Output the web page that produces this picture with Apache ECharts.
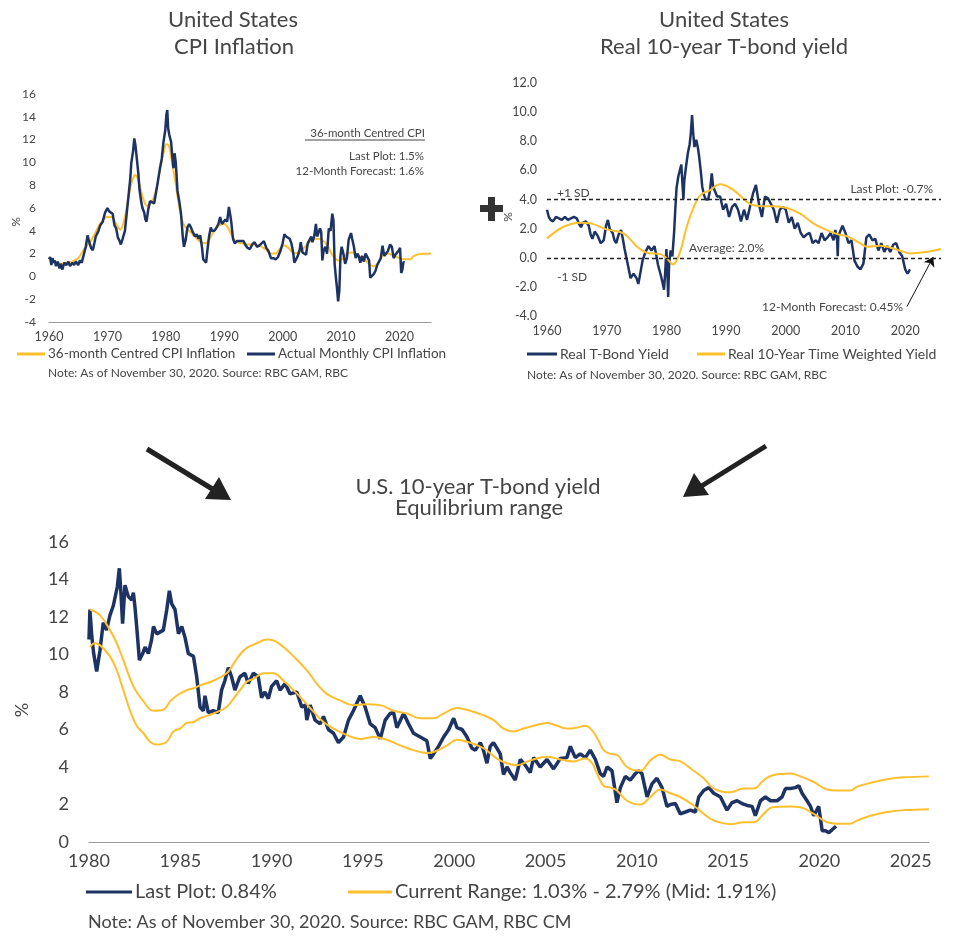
<!DOCTYPE html>
<html>
<head>
<meta charset="utf-8">
<script src="https://cdn.jsdelivr.net/npm/echarts@6/dist/echarts.min.js"></script>
<style>
  html, body { margin: 0; padding: 0; background: #fff; }
  #chart { width: 956px; height: 936px; }
</style>
</head>
<body>
<div id="chart"></div>
<script>
// --- top-left: US CPI inflation (year, %)
var cpiActual = [
  [1960.0,1.5],[1960.2,1.7],[1960.4,1.0],[1960.6,1.6],[1960.8,1.2],[1961.0,1.4],[1961.2,0.9],[1961.5,1.3],[1961.8,0.7],
  [1962.0,1.1],[1962.3,0.6],[1962.6,1.2],[1963.0,1.0],[1963.3,1.3],[1963.6,0.9],[1964.0,1.2],[1964.3,1.0],[1964.6,1.3],
  [1965.0,1.0],[1965.3,1.4],[1965.6,1.2],[1966.0,2.0],[1966.3,2.6],[1966.6,3.6],[1966.9,3.0],[1967.2,2.5],[1967.5,2.3],
  [1967.8,3.0],[1968.0,3.5],[1968.4,3.9],[1968.8,4.5],[1969.2,4.8],[1969.6,5.6],[1970.0,6.0],[1970.3,5.7],[1970.6,5.8],
  [1970.9,5.5],[1971.2,4.5],[1971.5,4.2],[1971.8,3.4],[1972.0,3.2],[1972.3,2.8],[1972.6,3.3],[1973.0,4.0],[1973.3,5.5],
  [1973.6,7.0],[1973.9,8.5],[1974.1,10.0],[1974.4,11.0],[1974.6,12.1],[1974.8,11.5],[1975.0,10.5],[1975.3,9.0],
  [1975.5,7.6],[1975.8,6.5],[1976.0,6.0],[1976.3,5.6],[1976.5,5.0],[1976.7,4.8],[1977.0,5.9],[1977.3,6.6],[1977.6,6.5],
  [1978.0,6.4],[1978.3,7.3],[1978.6,8.2],[1979.0,9.5],[1979.3,10.3],[1979.6,11.8],[1979.9,12.8],[1980.1,14.2],
  [1980.25,14.6],[1980.4,13.0],[1980.6,12.4],[1980.9,11.8],[1981.1,10.6],[1981.3,9.5],[1981.5,10.8],[1981.7,10.0],
  [1982.0,7.5],[1982.3,6.6],[1982.6,5.5],[1982.9,3.5],[1983.1,2.6],[1983.4,3.2],[1983.7,4.3],[1984.0,4.6],[1984.3,4.3],
  [1984.6,3.9],[1985.0,3.5],[1985.3,3.7],[1985.6,3.3],[1985.9,3.6],[1986.2,2.5],[1986.4,1.5],[1986.6,1.6],[1986.9,1.2],
  [1987.1,2.2],[1987.4,3.5],[1987.7,4.3],[1987.9,4.0],[1988.3,4.0],[1988.6,4.2],[1989.0,4.6],[1989.3,5.2],[1989.6,4.6],
  [1989.9,4.5],[1990.2,5.0],[1990.5,4.8],[1990.8,6.1],[1991.0,5.5],[1991.2,4.8],[1991.5,3.3],[1991.8,2.9],[1992.2,3.1],
  [1992.5,3.0],[1992.9,3.1],[1993.3,3.1],[1993.7,2.7],[1994.0,2.5],[1994.4,2.4],[1994.8,2.8],[1995.2,3.0],[1995.6,2.6],
  [1996.0,2.7],[1996.4,2.9],[1996.8,3.1],[1997.2,2.5],[1997.6,2.2],[1998.0,1.6],[1998.4,1.6],[1998.8,1.5],[1999.2,1.7],
  [1999.6,2.2],[2000.0,2.9],[2000.3,3.7],[2000.6,3.5],[2000.9,3.4],[2001.2,3.3],[2001.5,2.9],[2001.8,2.1],[2002.0,1.2],
  [2002.3,1.3],[2002.6,1.8],[2002.9,2.3],[2003.1,3.0],[2003.4,2.1],[2003.7,2.2],[2004.0,1.9],[2004.3,2.9],[2004.6,3.0],
  [2004.9,3.5],[2005.1,3.0],[2005.4,3.5],[2005.7,4.6],[2005.9,3.5],[2006.1,3.6],[2006.4,4.2],[2006.6,3.9],[2006.8,1.4],
  [2007.0,2.2],[2007.3,2.6],[2007.6,2.0],[2007.9,4.2],[2008.2,4.0],[2008.5,5.5],[2008.7,4.9],[2008.9,1.1],[2009.1,0.0],
  [2009.3,-1.0],[2009.5,-2.2],[2009.7,-1.3],[2009.9,1.8],[2010.1,2.6],[2010.4,2.0],[2010.7,1.1],[2011.0,1.6],[2011.3,3.2],
  [2011.7,3.8],[2011.9,3.3],[2012.2,2.6],[2012.5,1.6],[2012.8,2.0],[2013.0,1.8],[2013.3,1.2],[2013.6,1.8],[2013.9,1.3],
  [2014.2,2.0],[2014.5,2.0],[2014.8,1.4],[2015.0,-0.1],[2015.3,-0.2],[2015.6,0.2],[2015.9,0.5],[2016.2,1.0],[2016.5,1.1],
  [2016.8,1.6],[2017.1,2.7],[2017.4,1.8],[2017.7,1.9],[2018.0,2.2],[2018.4,2.8],[2018.7,2.6],[2019.0,1.6],[2019.3,1.9],
  [2019.6,1.8],[2019.9,2.3],[2020.1,2.5],[2020.3,0.3],[2020.5,0.6],[2020.7,1.3],[2020.8,1.2]
];
var cpiCentred = [
  [1960,1.5],[1961,1.2],[1962,1.1],[1963,1.2],[1964,1.3],[1965,1.6],[1966,2.4],[1967,3.0],[1968,3.9],[1969,4.8],
  [1970,5.2],[1970.7,5.2],[1971.5,4.6],[1972.2,4.1],[1973,5.2],[1973.7,7.2],[1974.3,8.5],[1974.8,8.9],[1975.4,8.2],
  [1976.2,6.7],[1976.8,6.2],[1977.5,6.5],[1978.2,7.3],[1979,9.3],[1979.6,10.8],[1980.1,11.6],[1980.5,11.5],[1981,10.2],
  [1981.6,8.4],[1982.2,6.4],[1983,4.6],[1984,4.0],[1985,3.5],[1986,3.0],[1986.8,2.9],[1987.5,3.3],[1988.3,4.0],
  [1989.2,4.5],[1990,4.6],[1990.6,4.3],[1991.3,3.6],[1992,3.1],[1993,2.9],[1994,2.8],[1995,2.8],[1996,2.7],[1997,2.4],
  [1998,2.0],[1998.8,2.0],[1999.5,2.4],[2000.3,2.7],[2001,2.5],[2002,2.0],[2003,2.2],[2004,2.7],[2005,3.2],[2006,3.3],
  [2007,3.1],[2007.8,2.6],[2008.6,1.8],[2009.5,1.4],[2010.2,1.5],[2011,2.0],[2012,2.1],[2013,1.8],[2014,1.5],[2015,1.0],
  [2015.6,0.9],[2016.5,1.3],[2017.3,1.9],[2018,2.0],[2019,1.8],[2020,1.6],[2020.5,1.5],[2021.8,1.5],[2022.5,1.8],
  [2023.5,1.97],[2025.4,2.0]
];

// --- top-right: real 10-year T-bond yield (year, %)
var realYield = [
  [1960,3.3],[1960.3,2.8],[1960.6,2.6],[1961,2.5],[1961.5,2.8],[1962,2.7],[1962.5,2.6],[1963,2.8],[1963.5,2.6],[1964,2.7],
  [1964.5,2.8],[1965,2.7],[1965.4,2.3],[1965.7,2.1],[1966,2.4],[1966.5,2.5],[1967,2.2],[1967.3,1.6],[1967.6,1.3],
  [1968,1.8],[1968.5,1.5],[1969,1.0],[1969.5,1.2],[1969.9,2.2],[1970.2,2.6],[1970.5,2.0],[1971,1.7],[1971.3,1.2],
  [1971.6,1.0],[1972,1.6],[1972.4,1.9],[1972.7,1.3],[1973,0.6],[1973.5,-0.4],[1974,-1.4],[1974.5,-1.1],[1975,-1.4],
  [1975.3,-1.8],[1975.7,-0.9],[1976,-0.2],[1976.5,0.4],[1977,0.8],[1977.5,0.5],[1978,0.8],[1978.3,0.2],[1978.6,-0.5],
  [1979,-1.1],[1979.3,-1.6],[1979.6,-2.2],[1979.8,-1.0],[1980.0,0.6],[1980.15,-0.8],[1980.3,-2.7],[1980.45,-0.5],
  [1980.7,0.5],[1981,0.1],[1981.3,1.8],[1981.5,3.4],[1981.7,4.8],[1982,5.6],[1982.3,5.5],[1982.5,6.4],[1982.7,5.0],
  [1982.85,4.0],[1983,5.3],[1983.3,6.3],[1983.6,7.2],[1983.9,7.8],[1984.1,8.6],[1984.3,9.8],[1984.5,8.5],[1984.7,7.6],
  [1985,8.1],[1985.3,7.5],[1985.5,6.9],[1985.8,5.8],[1986,4.9],[1986.3,4.3],[1986.6,4.0],[1987,4.0],[1987.3,4.6],
  [1987.6,5.8],[1987.8,5.0],[1988,4.7],[1988.5,4.2],[1989,4.2],[1989.5,3.3],[1990,3.7],[1990.5,2.8],[1991,3.5],
  [1991.5,3.7],[1992,3.3],[1992.5,2.5],[1993,3.3],[1993.5,2.6],[1994,3.5],[1994.5,4.4],[1995,5.0],[1995.5,3.7],
  [1996,2.8],[1996.5,4.2],[1997,4.1],[1997.5,3.7],[1998,3.3],[1998.5,2.4],[1999,3.3],[1999.5,3.5],[2000,3.3],
  [2000.5,2.4],[2001,2.8],[2001.5,2.0],[2002,2.4],[2002.5,1.7],[2003,1.4],[2003.5,1.6],[2004,1.7],[2004.5,1.0],
  [2005,1.2],[2005.5,1.0],[2006,1.7],[2006.5,1.2],[2007,1.4],[2007.5,1.7],[2008,1.2],[2008.3,1.9],[2008.6,1.2],
  [2008.7,0.1],[2008.8,1.5],[2009,1.4],[2009.5,2.2],[2010,1.7],[2010.5,1.0],[2011,1.2],[2011.5,-0.2],[2012,-0.6],
  [2012.5,-0.8],[2013,-0.4],[2013.5,1.4],[2014,1.6],[2014.5,1.2],[2015,1.3],[2015.5,0.5],[2016,1.0],[2016.5,0.4],
  [2017,0.8],[2017.5,0.4],[2018,0.9],[2018.5,1.0],[2019,0.4],[2019.5,0.1],[2020,-0.8],[2020.4,-1.1],[2020.8,-0.8]
];
var realWeighted = [
  [1960.0,1.33],[1962.8,2.13],[1965.6,2.41],[1967.3,2.36],[1970.0,1.95],[1972.8,1.67],[1975.1,0.76],[1976.7,0.34],
  [1979.0,0.25],[1980.1,-0.05],[1981.1,-0.46],[1982.3,0.41],[1983.4,2.13],[1984.6,3.5],[1985.7,4.3],[1987.3,4.63],
  [1989.0,5.05],[1991.3,4.63],[1993.5,3.83],[1994.6,3.6],[1996.3,3.53],[1997.9,3.53],[2000.2,3.42],[2002.4,3.03],
  [2004.6,2.36],[2006.9,1.9],[2009.1,1.56],[2010.2,1.49],[2012.5,0.99],[2013.6,0.76],[2015.8,0.83],[2018.0,0.64],
  [2019.7,0.41],[2020.8,0.3],[2026.0,0.6]
];
var sdLines = [4, 0];

// --- bottom: US 10-year yield and equilibrium range (year, %)
var tenYear = [
  [1980.0,10.8],[1980.05,12.4],[1980.15,11.0],[1980.25,10.1],[1980.42,9.1],[1980.6,10.2],[1980.78,11.7],[1980.96,11.3],
  [1981.15,12.1],[1981.33,12.6],[1981.42,12.7],[1981.55,13.6],[1981.66,14.6],[1981.73,13.6],[1981.84,11.65],[1981.97,13.7],
  [1982.15,13.1],[1982.34,12.9],[1982.43,13.3],[1982.52,12.5],[1982.61,11.5],[1982.76,9.7],[1982.94,10.05],[1983.07,10.4],
  [1983.25,10.05],[1983.43,10.8],[1983.53,11.5],[1983.71,11.1],[1984.07,11.3],[1984.26,12.4],[1984.4,13.4],[1984.53,12.7],
  [1984.71,12.4],[1984.9,11.1],[1985.08,11.5],[1985.26,10.9],[1985.44,10.05],[1985.72,9.9],[1985.9,8.8],[1986.08,7.2],
  [1986.26,7.0],[1986.35,7.8],[1986.53,6.9],[1986.8,7.0],[1987.08,6.9],[1987.26,8.1],[1987.44,8.6],[1987.63,9.3],
  [1987.81,8.8],[1987.99,8.1],[1988.26,8.8],[1988.54,9.0],[1988.72,8.45],[1989.0,9.0],[1989.27,8.8],[1989.45,7.7],
  [1989.63,8.0],[1989.82,7.65],[1990.0,8.3],[1990.28,8.6],[1990.46,8.1],[1990.74,8.45],[1991.01,7.9],[1991.38,8.0],
  [1991.65,7.2],[1991.84,7.3],[1991.93,6.5],[1992.11,7.3],[1992.38,6.5],[1992.66,6.3],[1992.84,6.7],[1993.11,6.0],
  [1993.39,5.8],[1993.66,5.3],[1993.94,5.6],[1994.21,6.5],[1994.48,7.0],[1994.85,7.8],[1995.12,7.2],[1995.4,6.3],
  [1995.67,6.1],[1995.95,5.5],[1996.22,6.5],[1996.49,6.85],[1996.68,6.9],[1996.86,6.1],[1997.23,6.85],[1997.5,6.3],
  [1997.77,5.8],[1998.14,5.6],[1998.5,5.4],[1998.69,4.45],[1998.87,4.7],[1999.14,5.1],[1999.42,5.6],[1999.7,6.0],
  [1999.97,6.6],[2000.15,6.1],[2000.43,6.0],[2000.7,5.6],[2000.97,5.0],[2001.16,4.9],[2001.43,5.3],[2001.6,4.9],
  [2001.79,4.2],[2001.97,5.1],[2002.15,5.3],[2002.34,5.0],[2002.52,4.7],[2002.7,3.6],[2002.89,4.0],[2003.07,3.7],
  [2003.34,3.3],[2003.62,4.4],[2003.89,4.1],[2004.16,3.7],[2004.35,4.5],[2004.71,4.0],[2005.08,4.4],[2005.44,3.9],
  [2005.81,4.45],[2006.17,4.5],[2006.36,5.1],[2006.63,4.5],[2006.9,4.7],[2007.18,4.5],[2007.45,4.9],[2007.73,4.4],
  [2008.0,3.65],[2008.18,3.5],[2008.37,4.0],[2008.64,3.8],[2008.91,2.1],[2009.1,2.9],[2009.37,3.5],[2009.64,3.3],
  [2009.92,3.65],[2010.1,3.8],[2010.28,3.65],[2010.56,2.4],[2010.83,3.1],[2011.1,3.4],[2011.38,2.9],[2011.65,1.9],
  [2011.84,2.0],[2012.11,2.05],[2012.38,1.5],[2012.66,1.6],[2012.93,1.7],[2013.21,1.6],[2013.39,2.4],[2013.66,2.75],
  [2013.94,2.9],[2014.21,2.6],[2014.58,2.4],[2014.94,1.7],[2015.21,2.1],[2015.49,2.2],[2015.76,2.05],[2016.04,1.95],
  [2016.31,1.9],[2016.49,1.4],[2016.77,2.2],[2017.04,2.4],[2017.32,2.2],[2017.68,2.2],[2017.95,2.4],[2018.14,2.85],
  [2018.41,2.85],[2018.68,2.9],[2018.87,3.0],[2019.05,2.6],[2019.32,2.2],[2019.51,1.9],[2019.69,1.4],[2019.96,1.9],
  [2020.15,0.6],[2020.33,0.6],[2020.51,0.5],[2020.69,0.65],[2020.91,0.84]
];
var rangeUpper = [
  [1980.05,12.4],[1980.6,12.1],[1981.15,11.3],[1981.52,10.6],[1981.88,9.7],[1982.43,8.3],[1982.98,7.5],[1983.53,7.0],
  [1984.07,7.05],[1984.44,7.5],[1984.8,7.8],[1985.35,8.1],[1985.72,8.2],[1986.08,8.35],[1986.81,8.6],[1987.54,9.0],
  [1987.91,9.5],[1988.27,10.0],[1988.64,10.35],[1989.19,10.6],[1989.74,10.8],[1990.1,10.75],[1990.65,10.4],[1991.2,9.9],
  [1991.93,9.15],[1992.47,8.45],[1993.02,7.9],[1993.75,7.55],[1994.48,7.3],[1995.21,7.35],[1995.95,7.3],[1996.68,7.0],
  [1997.41,6.85],[1998.14,6.6],[1998.87,6.6],[1999.42,6.85],[2000.15,7.15],[2000.69,7.05],[2001.61,6.75],[2002.16,6.5],
  [2002.7,6.05],[2003.25,5.9],[2003.8,6.05],[2004.35,6.2],[2005.08,6.35],[2005.63,6.2],[2006.17,6.05],[2006.72,6.1],
  [2007.18,6.2],[2007.55,5.95],[2007.91,5.4],[2008.18,4.9],[2008.55,4.7],[2008.91,4.65],[2009.46,4.0],[2010.19,3.8],
  [2010.74,4.35],[2011.29,4.65],[2011.84,4.4],[2012.38,4.3],[2013.11,3.8],[2013.66,3.4],[2014.21,2.85],[2015.12,2.65],
  [2015.85,2.85],[2016.4,2.85],[2016.95,3.3],[2017.41,3.55],[2018.41,3.65],[2018.96,3.5],[2019.69,3.2],[2020.42,2.8],
  [2020.97,2.75],[2021.7,2.75],[2022.07,2.95],[2022.79,3.15],[2023.71,3.35],[2024.62,3.45],[2025.99,3.5]
];
var rangeLower = [
  [1980.05,10.4],[1980.33,10.6],[1980.6,10.5],[1981.15,9.9],[1981.52,9.15],[1981.88,8.1],[1982.25,7.0],[1982.61,6.2],
  [1982.98,5.8],[1983.34,5.35],[1983.71,5.2],[1984.26,5.35],[1984.62,5.9],[1984.99,6.05],[1985.35,6.35],[1985.72,6.4],
  [1986.08,6.6],[1986.81,6.85],[1987.54,7.2],[1987.91,7.65],[1988.27,8.1],[1988.64,8.55],[1989.0,8.7],[1989.55,9.0],
  [1990.1,9.0],[1990.65,8.6],[1991.2,8.1],[1991.74,7.55],[1992.29,6.95],[1992.84,6.4],[1993.39,6.05],[1994.12,5.7],
  [1994.85,5.5],[1995.58,5.6],[1996.31,5.45],[1997.04,5.15],[1997.77,4.9],[1998.5,4.75],[1998.87,4.8],[1999.6,5.15],
  [2000.15,5.45],[2000.69,5.35],[2001.61,5.0],[2002.34,4.45],[2002.88,4.2],[2003.43,4.1],[2004.16,4.35],[2005.08,4.55],
  [2005.81,4.4],[2006.54,4.3],[2007.18,4.45],[2007.55,4.2],[2007.82,3.65],[2008.18,3.0],[2008.55,2.9],[2008.91,2.75],
  [2009.46,2.2],[2010.19,2.0],[2010.74,2.4],[2011.29,2.8],[2011.84,2.6],[2012.38,2.4],[2013.11,1.95],[2013.66,1.5],
  [2014.21,1.15],[2015.12,0.95],[2015.85,1.05],[2016.4,1.05],[2016.95,1.5],[2017.41,1.85],[2018.41,1.9],[2018.96,1.85],
  [2019.69,1.5],[2020.42,1.05],[2020.97,0.98],[2021.7,0.98],[2022.07,1.15],[2022.79,1.4],[2023.71,1.6],[2024.62,1.7],
  [2025.99,1.75]
];

var NAVY = '#1d3364';
var GOLD = '#fdbf2d';
var TXT = '#454545';
var FONT = 'Lato';

var chart = echarts.init(document.getElementById('chart'));

function yearLabel(step) {
  return function (v) { return Math.abs(v % step) < 1e-6 ? String(Math.round(v)) : ''; };
}

function txt(x, y, s, size, align, extra) {
  var o = {
    type: 'text', x: x, y: y, silent: true,
    style: { text: s, fill: TXT, font: size + 'px ' + FONT, textAlign: align || 'left', textVerticalAlign: 'middle' }
  };
  if (extra) Object.assign(o, extra);
  return o;
}

function legendItem(name, left, top, w, size) {
  return {
    data: [name], left: left, top: top, padding: 0, icon: 'rect',
    itemWidth: w, itemHeight: 3, itemGap: 4, selectedMode: false,
    textStyle: { fontSize: size, color: TXT, fontFamily: FONT, padding: [0, 0, 0, -2] }
  };
}

var option = {
  animation: false,
  backgroundColor: '#fff',
  textStyle: { fontFamily: FONT },
  grid: [
    { left: 49, top: 94, width: 382, height: 228 },
    { left: 547, top: 83, width: 394, height: 233 },
    { left: 89, top: 542, width: 840, height: 300 }
  ],
  xAxis: [
    {
      gridIndex: 0, type: 'value', min: 1960, max: 2025.4, interval: 10,
      axisLine: { onZero: false, lineStyle: { color: '#9a9a9a', width: 1.2 } }, axisTick: { show: false }, splitLine: { show: false },
      axisLabel: { color: TXT, fontSize: 12.5, margin: 8, formatter: yearLabel(10), showMaxLabel: false }
    },
    {
      gridIndex: 1, type: 'value', min: 1960, max: 2026, interval: 10,
      axisLine: { show: false, onZero: false }, axisTick: { show: false }, splitLine: { show: false },
      axisLabel: { color: TXT, fontSize: 12.5, margin: 8, formatter: yearLabel(10), showMaxLabel: false }
    },
    {
      gridIndex: 2, type: 'value', min: 1980, max: 2026, interval: 5,
      axisLine: { onZero: false, lineStyle: { color: '#9a9a9a', width: 1.2 } }, axisTick: { show: false }, splitLine: { show: false },
      axisLabel: { color: TXT, fontSize: 18, margin: 10, formatter: yearLabel(5), showMaxLabel: false }
    }
  ],
  yAxis: [
    {
      gridIndex: 0, type: 'value', min: -4, max: 16, interval: 2,
      axisLine: { show: false }, axisTick: { show: false }, splitLine: { show: false },
      axisLabel: { color: TXT, fontSize: 12, margin: 13 }
    },
    {
      gridIndex: 1, type: 'value', min: -4, max: 12, interval: 2,
      axisLine: { show: false }, axisTick: { show: false }, splitLine: { show: false },
      axisLabel: { color: TXT, fontSize: 12.5, margin: 10, formatter: function (v) { return v.toFixed(1); } }
    },
    {
      gridIndex: 2, type: 'value', min: 0, max: 16, interval: 2,
      axisLine: { show: false }, axisTick: { show: false }, splitLine: { show: false },
      axisLabel: { color: TXT, fontSize: 18, margin: 20 }
    }
  ],
  legend: [
    legendItem('36-month Centred CPI Inflation', 17, 347, 28, 13.5),
    legendItem('Actual Monthly CPI Inflation', 247, 347, 28, 13.5),
    legendItem('Real T-Bond Yield', 527, 347, 30, 14),
    legendItem('Real 10-Year Time Weighted Yield', 697, 347, 28, 14),
    legendItem('Last Plot: 0.84%', 86, 882, 46, 20),
    legendItem('Current Range: 1.03% - 2.79% (Mid: 1.91%)', 348, 882, 44, 20)
  ],
  series: [
    {
      name: '36-month Centred CPI Inflation', type: 'line', xAxisIndex: 0, yAxisIndex: 0,
      data: cpiCentred, showSymbol: false, symbol: 'none', smooth: 0.4,
      itemStyle: { color: GOLD }, lineStyle: { color: GOLD, width: 2 }
    },
    {
      name: 'Actual Monthly CPI Inflation', type: 'line', xAxisIndex: 0, yAxisIndex: 0,
      data: cpiActual, showSymbol: false, symbol: 'none',
      itemStyle: { color: NAVY }, lineStyle: { color: NAVY, width: 2.5 }
    },
    {
      name: 'Real T-Bond Yield', type: 'line', xAxisIndex: 1, yAxisIndex: 1,
      data: realYield, showSymbol: false, symbol: 'none',
      itemStyle: { color: NAVY }, lineStyle: { color: NAVY, width: 2.5 },
      markLine: {
        silent: true, symbol: 'none', label: { show: false },
        lineStyle: { color: '#222', type: [4, 3], width: 1.3 },
        data: sdLines.map(function (v) { return { yAxis: v }; })
      }
    },
    {
      name: 'Real 10-Year Time Weighted Yield', type: 'line', xAxisIndex: 1, yAxisIndex: 1,
      data: realWeighted, showSymbol: false, symbol: 'none', smooth: 0.4,
      itemStyle: { color: GOLD }, lineStyle: { color: GOLD, width: 2 },
      markLine: {
        silent: true, symbol: ['none', 'arrow'], symbolSize: 9, label: { show: false },
        lineStyle: { color: '#111', type: 'solid', width: 1 },
        data: [[{ coord: [2020.3, -3.35] }, { coord: [2024.7, 0.05] }]]
      }
    },
    {
      name: 'Last Plot: 0.84%', type: 'line', xAxisIndex: 2, yAxisIndex: 2,
      data: tenYear, showSymbol: false, symbol: 'none',
      itemStyle: { color: NAVY }, lineStyle: { color: NAVY, width: 3.5 }
    },
    {
      name: 'Current Range: 1.03% - 2.79% (Mid: 1.91%)', type: 'line', xAxisIndex: 2, yAxisIndex: 2,
      data: rangeUpper, showSymbol: false, symbol: 'none', smooth: 0.4,
      itemStyle: { color: GOLD }, lineStyle: { color: GOLD, width: 2 }
    },
    {
      name: 'Current Range: 1.03% - 2.79% (Mid: 1.91%)', type: 'line', xAxisIndex: 2, yAxisIndex: 2,
      data: rangeLower, showSymbol: false, symbol: 'none', smooth: 0.4,
      itemStyle: { color: GOLD }, lineStyle: { color: GOLD, width: 2 }
    }
  ],
  graphic: [
    // titles
    txt(233, 20, 'United States', 22, 'center'),
    txt(234, 47, 'CPI Inflation', 22, 'center'),
    txt(724, 20, 'United States', 22, 'center'),
    txt(724, 47, 'Real 10-year T-bond yield', 22, 'center'),
    txt(478, 487, 'U.S. 10-year T-bond yield', 22, 'center'),
    txt(479, 508, 'Equilibrium range', 22, 'center'),
    // axis names
    txt(16, 222, '%', 12, 'center', { rotation: Math.PI / 2 }),
    txt(508, 217, '%', 12, 'center', { rotation: Math.PI / 2 }),
    txt(22, 710, '%', 18, 'center', { rotation: Math.PI / 2 }),
    // CPI annotations
    txt(425, 133, '36-month Centred CPI', 11.5, 'right'),
    { type: 'line', silent: true, shape: { x1: 305, y1: 140, x2: 425, y2: 140 }, style: { stroke: TXT, lineWidth: 1 } },
    txt(424, 156, 'Last Plot: 1.5%', 11.5, 'right'),
    txt(424, 171, '12-Month Forecast: 1.6%', 11.5, 'right'),
    // real yield annotations
    txt(557, 193, '+1 SD', 12, 'left'),
    txt(557, 277, '-1 SD', 12, 'left'),
    txt(933, 189, 'Last Plot: -0.7%', 12, 'right'),
    txt(689, 248, 'Average: 2.0%', 12, 'left'),
    txt(903, 307, '12-Month Forecast: 0.45%', 12, 'right'),
    // notes
    txt(48, 373, 'Note: As of November 30, 2020. Source: RBC GAM, RBC', 12, 'left'),
    txt(527, 375, 'Note: As of November 30, 2020. Source: RBC GAM, RBC', 12, 'left'),
    txt(88, 922, 'Note: As of November 30, 2020. Source: RBC GAM, RBC CM', 18, 'left'),
    // plus sign
    { type: 'rect', silent: true, shape: { x: 480, y: 205, width: 23, height: 7 }, style: { fill: '#333' } },
    { type: 'rect', silent: true, shape: { x: 488, y: 197, width: 7, height: 24 }, style: { fill: '#333' } },
    // left arrow
    { type: 'line', silent: true, shape: { x1: 147, y1: 449, x2: 214, y2: 490 }, style: { stroke: '#222', lineWidth: 5 } },
    { type: 'polygon', silent: true, shape: { points: [[231, 500], [205, 499], [219, 477]] }, style: { fill: '#222' } },
    // right arrow
    { type: 'line', silent: true, shape: { x1: 766, y1: 446, x2: 700, y2: 487 }, style: { stroke: '#222', lineWidth: 5 } },
    { type: 'polygon', silent: true, shape: { points: [[683, 497], [709, 495], [694, 473]] }, style: { fill: '#222' } }
  ]
};

chart.setOption(option);
</script>
</body>
</html>
